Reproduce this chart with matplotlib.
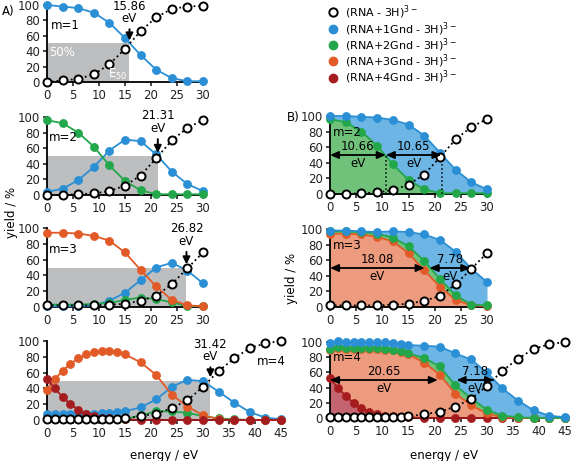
import numpy as np
import matplotlib
matplotlib.use('Agg')
from matplotlib import pyplot as plt
from matplotlib.lines import Line2D
from matplotlib.patches import Rectangle

plt.rcParams['font.family'] = ['DejaVu Sans']

energy_30 = [0, 3, 6, 9, 12, 15, 18, 21, 24, 27, 30]
energy_45 = [0, 1.5, 3, 4.5, 6, 7.5, 9, 10.5, 12, 13.5, 15,
             18, 21, 24, 27, 30, 33, 36, 39, 42, 45]

# m=1
m1_free = [0, 2, 4, 10, 23, 43, 66, 84, 95, 98, 99]
m1_gnd1 = [100, 98, 96, 90, 77, 57, 35, 16, 5, 1, 1]

# m=2
m2_free = [0, 0, 1, 2, 5, 12, 25, 47, 70, 86, 96]
m2_gnd1 = [4, 8, 19, 36, 57, 71, 69, 52, 30, 14, 5]
m2_gnd2 = [96, 92, 80, 62, 38, 18, 6, 1, 1, 1, 1]

# m=3
m3_free = [2, 2, 2, 2, 3, 4, 8, 14, 29, 49, 69]
m3_gnd1 = [1, 1, 1, 2, 8, 18, 34, 50, 56, 46, 30]
m3_gnd2 = [3, 3, 3, 4, 5, 9, 12, 10, 6, 1, 1]
m3_gnd3 = [94, 94, 93, 90, 84, 69, 47, 26, 9, 2, 1]

# m=4
m4_free = [1, 1, 1, 1, 1, 1, 1, 1, 1, 1, 2, 5, 8, 15, 25, 42, 62, 78, 91, 97, 100]
m4_gnd1 = [8, 8, 8, 8, 8, 8, 8, 9, 9, 10, 11, 16, 26, 42, 51, 49, 36, 22, 10, 3, 1]
m4_gnd2 = [1, 1, 1, 1, 1, 1, 1, 1, 1, 1, 1, 6, 11, 11, 9, 5, 2, 1, 0, 0, 0]
m4_gnd3 = [38, 52, 62, 71, 78, 83, 86, 87, 87, 86, 83, 73, 57, 32, 17, 6, 1, 0, 0, 0, 0]
m4_gnd4 = [52, 40, 29, 20, 13, 8, 5, 3, 2, 1, 1, 0, 0, 0, 0, 0, 0, 0, 0, 0, 0]

e50_values = [15.86, 21.31, 26.82, 31.42]

series_labels = [r'(RNA - 3H)$^{3-}$', r'(RNA+1Gnd - 3H)$^{3-}$', r'(RNA+2Gnd - 3H)$^{3-}$',
                 r'(RNA+3Gnd - 3H)$^{3-}$', r'(RNA+4Gnd - 3H)$^{3-}$']

COLORS = ['white', '#2a8fd5', '#22a74a', '#e25a27', '#a51c1f']
FILLS = [None, '#6cb5e4', '#70c27b', '#ec9b7e', '#c46470']

W, H = 571, 461
FS = 8.5


def box(x0, y0, x1, y1):
    # pixel box (top-left origin) -> figure fraction
    return [x0 / W, 1 - y1 / H, (x1 - x0) / W, (y1 - y0) / H]


def style_axes(ax, xmax):
    ax.set_xlim(0, xmax)
    ax.set_ylim(0, 100)
    ax.set_xticks(range(0, xmax + 1, 5))
    ax.set_yticks(range(0, 101, 20))
    ax.spines['top'].set_visible(False)
    ax.spines['right'].set_visible(False)
    for side in ['left', 'bottom']:
        ax.spines[side].set_linewidth(1.3)
        ax.spines[side].set_zorder(2)
    ax.tick_params(direction='out', length=3, width=1.2, labelsize=FS, pad=2, colors='#222')
    ax.patch.set_alpha(0)


def draw_series(ax, energy, values, idx, z):
    if idx == 0:
        ax.plot(energy, values, ls=':', color='black', lw=1.3, marker='o', ms=5.8,
                mfc='white', mec='black', mew=1.4, clip_on=False, zorder=z)
    else:
        ax.plot(energy, values, ls='-', color=COLORS[idx], lw=1.3, marker='o', ms=5.8,
                mfc=COLORS[idx], mec=COLORS[idx], mew=0.5, clip_on=False, zorder=z)


def plot_a(ax, energy, series, e50, xmax, m_text, m_xy, label_y):
    style_axes(ax, xmax)
    ax.add_patch(Rectangle((0, 0), e50, 50, color='#bdbebf', lw=0, zorder=1))
    for idx in sorted(series.keys(), reverse=True):
        if idx == 0:
            continue
        draw_series(ax, energy, series[idx], idx, 3 + idx)
    draw_series(ax, energy, series[0], 0, 9)
    ax.annotate(f'{e50:.2f}\neV', xy=(e50, 54), xytext=(e50, label_y), ha='center', va='bottom',
                fontsize=FS, linespacing=0.95, annotation_clip=False, zorder=10,
                arrowprops=dict(arrowstyle='-|>,head_length=0.5,head_width=0.25', color='black',
                                lw=1.4, shrinkA=1, shrinkB=0))
    ax.text(m_xy[0], m_xy[1], m_text, fontsize=FS, va='center', ha='left', zorder=10)


def plot_b(ax, energy, layers, xmax, m_text, arrows, free):
    style_axes(ax, xmax)
    idxs = [i for i, _ in layers]
    cum = np.cumsum(np.array([v for _, v in layers], dtype=float), axis=0)
    for k in range(len(layers) - 1, -1, -1):
        ax.fill_between(energy, 0, cum[k], color=FILLS[idxs[k]], lw=0, zorder=1 + (len(layers) - k) * 0.1)
    for k in range(len(layers)):
        draw_series(ax, energy, cum[k], idxs[k], 3 + k)
    draw_series(ax, energy, free, 0, 9)
    for x0, x1, label in arrows:
        ax.annotate('', xy=(x0, 50), xytext=(x1, 50), annotation_clip=False, zorder=10,
                    arrowprops=dict(arrowstyle='<|-|>,head_length=0.5,head_width=0.22',
                                    color='black', lw=1.3, shrinkA=0, shrinkB=0))
        tx = (x0 + x1) / 2
        ax.text(tx, 52, label, ha='center', va='bottom', fontsize=FS, zorder=10)
        ax.text(tx, 48, 'eV', ha='center', va='top', fontsize=FS, zorder=10)
    ax.text(0.6, 79, m_text, fontsize=FS, va='center', ha='left', zorder=10)


fig = plt.figure(figsize=(W / 100, H / 100), dpi=100)

ax_a1 = fig.add_axes(box(47, 5, 203, 82))
ax_a2 = fig.add_axes(box(47, 117, 203, 195))
ax_a3 = fig.add_axes(box(47, 228, 203, 307))
ax_a4 = fig.add_axes(box(47, 341, 281, 420))
ax_b1 = fig.add_axes(box(330, 116, 487, 194))
ax_b2 = fig.add_axes(box(330, 229, 487, 307))
ax_b3 = fig.add_axes(box(330, 342, 565, 418))

plot_a(ax_a1, energy_30, {0: m1_free, 1: m1_gnd1}, e50_values[0], 30, 'm=1', (0.7, 74), 74)
ax_a1.text(0.4, 47, '50%', color='white', fontsize=FS, ha='left', va='top', zorder=10)
ax_a1.text(15.5, 0.5, r'E$_{50}$', color='white', fontsize=FS, ha='right', va='bottom', zorder=10)
plot_a(ax_a2, energy_30, {0: m2_free, 1: m2_gnd1, 2: m2_gnd2}, e50_values[1], 30, 'm=2', (0.4, 74), 77)
plot_a(ax_a3, energy_30, {0: m3_free, 1: m3_gnd1, 2: m3_gnd2, 3: m3_gnd3}, e50_values[2], 30,
       'm=3', (0.4, 73), 75)
plot_a(ax_a4, energy_45, {0: m4_free, 1: m4_gnd1, 2: m4_gnd2, 3: m4_gnd3, 4: m4_gnd4},
       e50_values[3], 45, 'm=4', (40.3, 74), 72)

plot_b(ax_b1, energy_30, [(2, m2_gnd2), (1, m2_gnd1)], 30, 'm=2',
       [(0, 10.66, '10.66'), (10.66, 21.31, '10.65')], m2_free)
for xv in [10.66, 21.31]:
    ax_b1.plot([xv, xv], [0, 50], ls=':', color='black', lw=1.1, zorder=8)
plot_b(ax_b2, energy_30, [(3, m3_gnd3), (2, m3_gnd2), (1, m3_gnd1)], 30, 'm=3',
       [(0, 18.08, '18.08'), (19.04, 26.82, '7.78')], m3_free)
plot_b(ax_b3, energy_45, [(4, m4_gnd4), (3, m4_gnd3), (2, m4_gnd2), (1, m4_gnd1)], 45, 'm=4',
       [(0, 20.65, '20.65'), (24.24, 31.42, '7.18')], m4_free)

handles = [Line2D([], [], ls='none', marker='o', ms=6, mfc='white', mec='black', mew=1.4)]
for c in COLORS[1:]:
    handles.append(Line2D([], [], ls='none', marker='o', ms=6, mfc=c, mec=c))
fig.legend(handles, series_labels, loc='upper left', bbox_to_anchor=(0.575, 0.992), frameon=False,
           fontsize=8, handlelength=0.8, handletextpad=0.7, labelspacing=-0.12,
           borderpad=0, borderaxespad=0)

fig.text(0.004, 1 - 12 / H, 'A)', fontsize=FS, va='center', ha='left')
fig.text(287 / W, 1 - 117 / H, 'B)', fontsize=FS, va='center', ha='left')
fig.text(12 / W, 1 - 212 / H, 'yield / %', fontsize=FS, rotation=90, va='center', ha='center')
fig.text(292 / W, 1 - 278 / H, 'yield / %', fontsize=FS, rotation=90, va='center', ha='center')
fig.text(164 / W, 1 - 455 / H, 'energy / eV', fontsize=FS, va='center', ha='center')
fig.text(444 / W, 1 - 455 / H, 'energy / eV', fontsize=FS, va='center', ha='center')

fig.savefig('out.png', dpi=100)
